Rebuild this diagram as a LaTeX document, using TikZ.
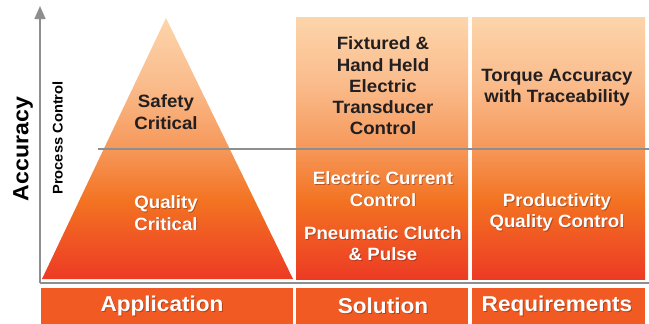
\documentclass[tikz,border=0pt]{standalone}
\usepackage{fontspec}
\setmainfont{Liberation Sans}[FakeStretch=1.05]
\usetikzlibrary{arrows.meta}
\definecolor{obot}{HTML}{EC3B24}
\definecolor{olow}{HTML}{F05623}
\definecolor{omid1}{HTML}{F37322}
\definecolor{omid}{HTML}{F6985A}
\definecolor{oupp}{HTML}{FABC8C}
\definecolor{otop}{HTML}{FDD5AB}
\definecolor{barcol}{HTML}{F15A22}
\definecolor{axisgrey}{HTML}{8E8E8E}
\definecolor{darktext}{HTML}{231F20}
\definecolor{shadowcol}{HTML}{6A2410}
\pgfdeclareverticalshading{orshade}{100bp}{color(0bp)=(obot); color(25bp)=(obot); color(32.5bp)=(olow); color(40bp)=(omid1); color(50bp)=(omid); color(62.5bp)=(oupp); color(75bp)=(otop); color(100bp)=(otop)}
\tikzset{
  colbox/.style={shading=orshade, draw=none, inner sep=0pt, minimum width=172pt, minimum height=262pt},
  barbox/.style={fill=barcol, draw=none, inner sep=0pt, minimum height=40pt},
  gline/.style={draw=axisgrey, line width=1.5pt},
  dtext/.style={text=darktext, font=\fontsize{17.8}{21.3}\selectfont\bfseries, align=center, inner sep=0pt},
  wtext/.style={text=white, font=\fontsize{17.8}{21.3}\selectfont\bfseries, align=center, inner sep=0pt},
  wshadow/.style={text=shadowcol, text opacity=0.45, font=\fontsize{17.8}{21.3}\selectfont\bfseries, align=center, inner sep=0pt, xshift=0.9pt, yshift=-0.9pt},
  btext/.style={text=white, font=\fontsize{21.5}{24}\selectfont\bfseries, inner sep=0pt},
  bshadow/.style={text=shadowcol, text opacity=0.45, font=\fontsize{21.5}{24}\selectfont\bfseries, inner sep=0pt, xshift=1pt, yshift=-1pt},
}
\newcommand\wlabel[3]{\node[wshadow] (#1s) at (#2) {#3}; \node[wtext] (#1) at (#2) {#3};}
\newcommand\blabel[3]{\node[bshadow] (#1s) at (#2) {#3}; \node[btext] (#1) at (#2) {#3};}
\begin{document}
\begin{tikzpicture}[x=1pt,y=-1pt]
\useasboundingbox (0,0) rectangle (649,324);
\fill[white] (0,0) rectangle (649,324);
% triangle
\shade[shading=orshade] (42,279) -- (166,18) -- (293,279) -- cycle;
% columns
\node[colbox] (solcol) at (382,148) {};
\node[colbox, minimum width=173pt] (reqcol) at (558.5,148) {};
% bottom bars
\node[barbox, minimum width=252pt, anchor=north west] (appbar) at (41,288) {};
\node[barbox, minimum width=172pt, anchor=north west] (solbar) at (296,288) {};
\node[barbox, minimum width=173pt, anchor=north west] (reqbar) at (472,288) {};
% axes
\coordinate (origin) at (40,283);
\coordinate (ytip) at (40,6);
\coordinate (xend) at (649,283);
\coordinate (mL) at (98,149);
\coordinate (mR) at (649,149);
\draw[gline] (mL) -- (mR);
\draw[gline] (xend) -- (origin.center);
\draw[gline, -{Triangle[length=13pt,width=11pt]}] (origin) -- (ytip);
% axis labels
\node[rotate=90, text=black, font=\fontsize{22}{24}\selectfont\bfseries, inner sep=0pt] (acc) at (23,149) {Accuracy};
\node[rotate=90, text=black, font=\fontsize{14}{16}\selectfont\bfseries, inner sep=0pt] (pc) at (57.5,138) {Process Control};
% texts
\node[dtext] (safety) at (166,112) {Safety\\Critical};
\wlabel{quality}{166,213}{Quality\\Critical}
\node[dtext] (fixt) at (383,86) {Fixtured \&\\Hand Held\\Electric\\Transducer\\Control};
\node[dtext] (torque) at (557,87.5) {Torque Accuracy\\with Traceability};
\wlabel{ecc}{383,189}{Electric Current\\Control}
\wlabel{pneu}{383,243.5}{Pneumatic Clutch\\\& Pulse}
\wlabel{prod}{557,212.5}{Productivity\\Quality Control}
\blabel{appl}{162,306}{Application}
\blabel{sol}{383,306}{Solution}
\blabel{req}{557,306}{Requirements}
\end{tikzpicture}
\end{document}
